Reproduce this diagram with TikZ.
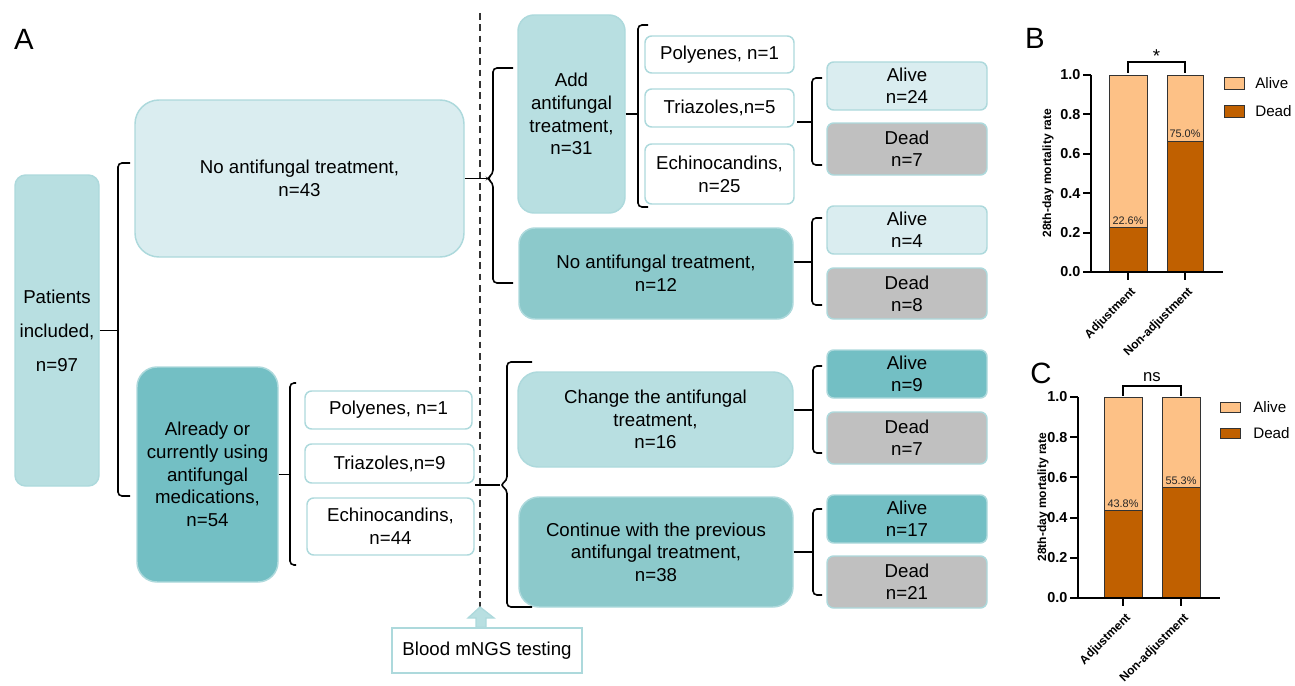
\documentclass[tikz,border=0pt]{standalone}
\usepackage{fontspec}
\setmainfont{Liberation Sans}
\definecolor{cA}{HTML}{DAEDF0}
\definecolor{cB}{HTML}{B8DFE1}
\definecolor{cC}{HTML}{8CC9CB}
\definecolor{cD}{HTML}{73BFC4}
\definecolor{cG}{HTML}{C0C0C0}
\definecolor{bord}{HTML}{ADD9DC}
\definecolor{alive}{HTML}{FDC186}
\definecolor{dead}{HTML}{C06000}
% box from corner (x1,y1) to (x2,y2) in pixel units
\newcommand\pxbox[7]{%
  \node[#1, minimum width={(#5-#3)*0.75pt}, minimum height={(#6-#4)*0.75pt}] (#2) at ({(#3+#5)/2},{(#4+#6)/2}) {#7};}
\begin{document}
\begin{tikzpicture}[x=0.75pt,y=-0.75pt,
  box/.style={draw=bord, line width=1.1pt, inner sep=0pt, align=center, font=\fontsize{14}{17}\selectfont},
  small/.style={box, rounded corners=5pt},
  res/.style={box, rounded corners=5pt, font=\fontsize{14}{16.5}\selectfont},
  br/.style={line width=1.2pt, rounded corners=3pt},
  bar/.style={draw=black!80, line width=0.6pt},
  axis/.style={line width=1.4pt},
  tick/.style={font=\bfseries\fontsize{10.8}{12}\selectfont, anchor=east, inner sep=1pt},
  pct/.style={font=\fontsize{8.2}{9}\selectfont, text=black!85, inner sep=1pt},
  ylab/.style={font=\bfseries\fontsize{9}{10}\selectfont, rotate=90},
  xlab/.style={font=\bfseries\fontsize{9}{10}\selectfont, rotate=45, anchor=east, inner sep=0pt},
  leg/.style={font=\fontsize{11.4}{13}\selectfont, anchor=west, inner sep=0pt},
  panel/.style={font=\fontsize{22}{26}\selectfont}
]
\useasboundingbox (0,0) rectangle (1295,685);

% ---------- Panel A ----------
\node[panel] (lA) at (24,39) {A};

\pxbox{box, fill=cB, rounded corners=8pt, font=\fontsize{14}{25.5}\selectfont}{pat}{15}{175}{99}{486}{Patients\\included,\\n=97}
\pxbox{box, fill=cA, rounded corners=18pt}{n43}{135}{100}{464}{257}{No antifungal treatment,\\n=43}
\pxbox{box, fill=cD, rounded corners=15pt}{alr}{137}{367}{278}{582}{Already or\\currently using\\antifungal\\medications,\\n=54}

\pxbox{small, fill=white}{poly1}{305}{391}{472}{429}{Polyenes, n=1}
\pxbox{small, fill=white}{tri9}{305}{444}{474}{483}{Triazoles,n=9}
\pxbox{small, fill=white}{ech44}{307}{498}{474}{555}{Echinocandins,\\n=44}

\pxbox{box, fill=cB, rounded corners=12pt}{add}{518}{15}{625}{213}{Add\\antifungal\\treatment,\\n=31}
\pxbox{small, fill=white}{poly2}{645}{36}{794}{73}{Polyenes, n=1}
\pxbox{small, fill=white}{tri5}{645}{89}{794}{127}{Triazoles,n=5}
\pxbox{small, fill=white}{ech25}{645}{144}{794}{204}{Echinocandins,\\n=25}
\pxbox{box, fill=cC, rounded corners=12pt}{n12}{519}{228}{793}{319}{No antifungal treatment,\\n=12}

\pxbox{res, fill=cA}{al24}{827}{62}{987}{110}{Alive\\n=24}
\pxbox{res, fill=cG}{de7a}{827}{123}{987}{175}{Dead\\n=7}
\pxbox{res, fill=cA}{al4}{827}{206}{987}{254}{Alive\\n=4}
\pxbox{res, fill=cG}{de8}{827}{268}{987}{319}{Dead\\n=8}

\pxbox{box, fill=cB, rounded corners=15pt}{chg}{518}{372}{793}{467}{Change the antifungal\\treatment,\\n=16}
\pxbox{box, fill=cC, rounded corners=15pt}{cont}{519}{497}{793}{607}{Continue with the previous\\antifungal treatment,\\n=38}

\pxbox{res, fill=cD}{al9}{827}{350}{987}{398}{Alive\\n=9}
\pxbox{res, fill=cG}{de7b}{827}{412}{987}{464}{Dead\\n=7}
\pxbox{res, fill=cD}{al17}{827}{495}{987}{543}{Alive\\n=17}
\pxbox{res, fill=cG}{de21}{827}{556}{987}{608}{Dead\\n=21}

\pxbox{box, fill=white}{blood}{392}{628}{582}{673}{Blood mNGS testing}

% dashed time line and arrow
\coordinate (dtop) at (480,13);
\coordinate (dbot) at (480,607);
\draw[line width=1.1pt, black!80, dash pattern=on 5pt off 3.5pt] (dtop) -- (dbot);
\draw[draw=bord, fill=cB, line width=1pt, line join=miter]
  (blood.north -| 476,0) -- (476,618) -- (468,618) -- (dbot) -- (494,618) -- (486,618) -- (blood.north -| 486,0) -- cycle;

% brackets
\draw[br] (pat.east) -- (118,330.5);
\draw[br] (130,163) -- (118,163) -- (118,496) -- (130,496);

\draw[br] (alr.east) -- (290,474.5);
\draw[br] (296,383) -- (290,383) -- (290,565) -- (296,565);

\draw[br] (n43.east) -- (487,178.5);
\draw[br] (513,68) -- (493,68) -- (493,174) -- (487,178.5) -- (493,183) -- (493,283) -- (513,283);

\draw[br] (add.east) -- (638,114);
\draw[br] (648,25) -- (638,25) -- (638,207) -- (648,207);

\coordinate (s5) at (797,122);
\draw[br] (s5) -- (812,122);
\draw[br] (822,78) -- (812,78) -- (812,165) -- (822,165);

\coordinate (s12) at (n12.east |- 0,262);
\draw[br] (s12) -- (812,262);
\draw[br] (822,218) -- (812,218) -- (812,305) -- (822,305);

\coordinate (s9) at (475,485);
\draw[br] (s9) -- (500,485);
\draw[br] (532,362) -- (507,362) -- (507,480.5) -- (500,485) -- (507,489.5) -- (507,607) -- (532,607);

\coordinate (s16) at (chg.east |- 0,410);
\draw[br] (s16) -- (813,410);
\draw[br] (822,366) -- (813,366) -- (813,453) -- (822,453);

\coordinate (s38) at (cont.east |- 0,552);
\draw[br] (s38) -- (813,552);
\draw[br] (822,509) -- (813,509) -- (813,595) -- (822,595);

% ---------- Panel B ----------
\node[panel] (lB) at (1035,38) {B};
\draw[bar, fill=alive] (1109,75) rectangle (1147,272);
\draw[bar, fill=dead] (1109,227.5) rectangle (1147,272);
\draw[bar, fill=alive] (1167,75) rectangle (1203,272);
\draw[bar, fill=dead] (1167,141) rectangle (1203,272);
\draw[axis] (1091,75) -- (1091,272) -- (1223,272);
\foreach \v/\t in {0/0.0,1/0.2,2/0.4,3/0.6,4/0.8,5/1.0}{
  \draw[axis] (1083,272-\v*39.4) -- (1091,272-\v*39.4);
  \node[tick] at (1082,272-\v*39.4) {\t};
}
\draw[axis] (1128,272) -- (1128,280);
\draw[axis] (1185,272) -- (1185,280);
\node[pct] at (1128,221) {22.6\%};
\node[pct] at (1185,134) {75.0\%};
\draw[line width=1.2pt] (1128,73) -- (1128,62) -- (1185,62) -- (1185,73);
\node[font=\fontsize{14}{15}\selectfont] at (1156.5,56) {*};
\node[ylab] at (1048,173) {28th-day mortality rate};
\node[xlab] at (1134,290) {Adjustment};
\node[xlab] at (1191,290) {Non-adjustment};
\draw[bar, fill=alive] (1224,77) rectangle (1244,89);
\node[leg] at (1255,83) {Alive};
\draw[bar, fill=dead] (1224,105) rectangle (1244,117);
\node[leg] at (1255,111) {Dead};

% ---------- Panel C ----------
\node[panel] (lC) at (1041,373) {C};
\draw[bar, fill=alive] (1104,397) rectangle (1142,598);
\draw[bar, fill=dead] (1104,510) rectangle (1142,598);
\draw[bar, fill=alive] (1162,397) rectangle (1200,598);
\draw[bar, fill=dead] (1162,487) rectangle (1200,598);
\draw[axis] (1078,397) -- (1078,598) -- (1220,598);
\foreach \v/\t in {0/0.0,1/0.2,2/0.4,3/0.6,4/0.8,5/1.0}{
  \draw[axis] (1070,598-\v*40.2) -- (1078,598-\v*40.2);
  \node[tick] at (1069,598-\v*40.2) {\t};
}
\draw[axis] (1123,598) -- (1123,606);
\draw[axis] (1181,598) -- (1181,606);
\node[pct] at (1123,504) {43.8\%};
\node[pct] at (1181,481) {55.3\%};
\draw[line width=1.2pt] (1123,396) -- (1123,386) -- (1181,386) -- (1181,396);
\node[font=\fontsize{12.5}{14}\selectfont] at (1152,377) {ns};
\node[ylab] at (1043,497) {28th-day mortality rate};
\node[xlab] at (1129,616) {Adjustment};
\node[xlab] at (1187,616) {Non-adjustment};
\draw[bar, fill=alive] (1220,402) rectangle (1240,412);
\node[leg] at (1253,407) {Alive};
\draw[bar, fill=dead] (1220,428) rectangle (1240,438);
\node[leg] at (1253,433) {Dead};
\end{tikzpicture}
\end{document}
